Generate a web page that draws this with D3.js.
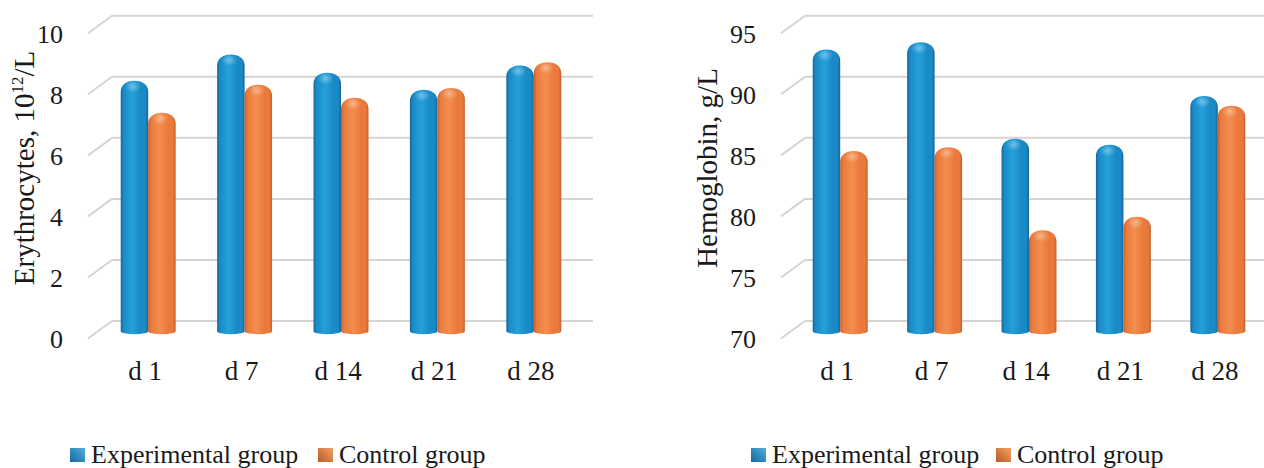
<!DOCTYPE html>
<html>
<head>
<meta charset="utf-8">
<script src="https://cdn.jsdelivr.net/npm/d3@7/dist/d3.min.js"></script>
<style>
  html, body { margin: 0; padding: 0; background: #ffffff; }
  svg { display: block; }
  text { font-family: "Liberation Serif", "Times New Roman", serif; fill: #1a1a1a; }
</style>
</head>
<body>
<svg id="chart" width="1264" height="468"></svg>
<script>
// Blood indices by day of observation
const categories = ["d 1", "d 7", "d 14", "d 21", "d 28"];
const seriesNames = ["Experimental group", "Control group"];

const erythrocytesExperimental = [8.06, 8.92, 8.32, 7.76, 8.56];
const erythrocytesControl      = [7.01, 7.93, 7.50, 7.82, 8.66];
const erythrocyteTicks = [0, 2, 4, 6, 8, 10];

const hemoglobinExperimental = [92.7, 93.3, 85.4, 84.9, 88.9];
const hemoglobinControl      = [84.4, 84.7, 77.9, 79.0, 88.1];
const hemoglobinTicks = [70, 75, 80, 85, 90, 95];

const svg = d3.select("#chart");
const defs = svg.append("defs");

// Cylinder shading: dark rims, bright core
function cylinderGradient(id, dark, mid, light) {
  const g = defs.append("linearGradient").attr("id", id)
    .attr("x1", "0%").attr("x2", "100%").attr("y1", "0%").attr("y2", "0%");
  [[0, dark], [0.1, mid], [0.42, light], [0.72, mid], [0.9, mid], [1, dark]]
    .forEach(([o, c]) => g.append("stop").attr("offset", o).attr("stop-color", c));
}
cylinderGradient("cyl-exp", "#15639a", "#1a8ac6", "#26a0da");
cylinderGradient("cyl-ctl", "#c25f2a", "#ea7a3b", "#f38e50");

// Glint on the rounded caps
const glint = defs.append("radialGradient").attr("id", "cap-glint")
  .attr("cx", "45%").attr("cy", "40%").attr("r", "50%");
glint.append("stop").attr("offset", 0).attr("stop-color", "#ffffff").attr("stop-opacity", 0.35);
glint.append("stop").attr("offset", 1).attr("stop-color", "#ffffff").attr("stop-opacity", 0);

// Legend swatches
function swatchGradient(id, a, b) {
  const g = defs.append("linearGradient").attr("id", id)
    .attr("x1", "100%").attr("y1", "0%").attr("x2", "0%").attr("y2", "100%");
  g.append("stop").attr("offset", 0).attr("stop-color", a);
  g.append("stop").attr("offset", 1).attr("stop-color", b);
}
swatchGradient("sw-exp", "#4fb0e0", "#17689c");
swatchGradient("sw-ctl", "#f3a060", "#b95a26");

const fills = { "Experimental group": "url(#cyl-exp)", "Control group": "url(#cyl-ctl)" };
const swatches = { "Experimental group": "url(#sw-exp)", "Control group": "url(#sw-ctl)" };

const depth = { dx: 24, dy: 17.5 };   // back wall sits up and to the right of the front edge
const gridColor = "#d9d3d3";

function capsulePath(x, w, yTop, yBottom) {
  const ry = 11, r = w / 2;
  return `M${x},${yBottom}` +
    `L${x},${yTop + ry}` +
    `C${x},${yTop + ry * 0.4} ${x + w * 0.2},${yTop} ${x + r},${yTop}` +
    `C${x + w * 0.8},${yTop} ${x + w},${yTop + ry * 0.4} ${x + w},${yTop + ry}` +
    `L${x + w},${yBottom}` +
    `A${r},3 0 0 1 ${x},${yBottom}Z`;
}

function drawPanel(opts) {
  const { backX0, backX1, catRange, padInner, ticks, expVals, ctlVals, title, titleX, legendX } = opts;
  const g = svg.append("g");

  const yBack = d3.scaleLinear().domain([ticks[0], ticks[ticks.length - 1]]).range([321, 15.7]);
  const yFront = d3.scaleLinear().domain(yBack.domain()).range(yBack.range().map(v => v + depth.dy));
  const yMid = d3.scaleLinear().domain(yBack.domain()).range(yBack.range().map(v => v + depth.dy / 2));

  // Back-wall gridlines with their slanted side-wall continuation
  const grid = g.append("g");
  grid.selectAll("line.back").data(ticks).join("line")
    .attr("x1", backX0).attr("x2", backX1)
    .attr("y1", d => yBack(d)).attr("y2", d => yBack(d))
    .attr("stroke", gridColor).attr("stroke-width", 2);
  grid.selectAll("line.side").data(ticks).join("line")
    .attr("x1", backX0 - depth.dx).attr("x2", backX0)
    .attr("y1", d => yFront(d)).attr("y2", d => yBack(d))
    .attr("stroke", gridColor).attr("stroke-width", 2);

  // Value axis labels on the front edge
  const yAxis = d3.axisLeft(yFront).tickValues(ticks).tickSize(0).tickPadding(0).tickFormat(d3.format("d"));
  g.append("g").attr("transform", `translate(${backX0 - depth.dx - 25},1)`).call(yAxis)
    .call(a => a.select(".domain").remove())
    .selectAll("text").attr("font-size", 26).attr("font-family", "Liberation Serif").attr("fill", "#1a1a1a");

  // Bars
  const x0 = d3.scaleBand().domain(categories).range(catRange).paddingInner(padInner).paddingOuter(padInner / 2);
  const x1 = d3.scaleBand().domain(seriesNames).range([0, x0.bandwidth()]);
  const rows = categories.map((c, i) => ({ cat: c, vals: [
    { s: seriesNames[0], v: expVals[i] }, { s: seriesNames[1], v: ctlVals[i] } ] }));
  const yBase = yMid(ticks[0]) + 1.5;

  const groups = g.append("g").selectAll("g").data(rows).join("g")
    .attr("transform", d => `translate(${x0(d.cat)},0)`);
  groups.selectAll("path.bar").data(d => d.vals).join("path").attr("class", "bar")
    .attr("d", d => capsulePath(x1(d.s), x1.bandwidth(), yMid(d.v) - 3, yBase))
    .attr("fill", d => fills[d.s]);
  groups.selectAll("ellipse.glint").data(d => d.vals).join("ellipse").attr("class", "glint")
    .attr("cx", d => x1(d.s) + x1.bandwidth() * 0.47)
    .attr("cy", d => yMid(d.v) + 4)
    .attr("rx", x1.bandwidth() * 0.3).attr("ry", 6)
    .attr("fill", "url(#cap-glint)");

  // Category labels on the front edge
  const xAxis = d3.axisBottom(x0).tickSize(0).tickPadding(0);
  g.append("g").attr("transform", `translate(-3,380)`).call(xAxis)
    .call(a => a.select(".domain").remove())
    .selectAll("text").attr("font-size", 27).attr("font-family", "Liberation Serif").attr("fill", "#1a1a1a")
    .attr("dy", 0);

  // Axis title
  const t = g.append("text")
    .attr("transform", `translate(${titleX},${168}) rotate(-90)`)
    .attr("text-anchor", "middle").attr("dominant-baseline", "central")
    .attr("font-size", 29);
  title(t);

  // Legend
  const lg = g.append("g");
  seriesNames.forEach((s, i) => {
    const x = legendX[i];
    lg.append("rect").attr("x", x).attr("y", 448).attr("width", 15).attr("height", 14)
      .attr("fill", swatches[s]);
    lg.append("text").attr("x", x + 21).attr("y", 463).attr("font-size", 26).text(s);
  });
}

drawPanel({
  backX0: 112, backX1: 593,
  catRange: [100, 582], padInner: 0.43,
  ticks: erythrocyteTicks,
  expVals: erythrocytesExperimental, ctlVals: erythrocytesControl,
  titleX: 24,
  title: t => {
    t.append("tspan").text("Erythrocytes, 10");
    t.append("tspan").attr("font-size", 17).attr("baseline-shift", "40%").text("12");
    t.append("tspan").text("/L");
  },
  legendX: [70, 318]
});

drawPanel({
  backX0: 805, backX1: 1264,
  catRange: [793, 1265], padInner: 0.418,
  ticks: hemoglobinTicks,
  expVals: hemoglobinExperimental, ctlVals: hemoglobinControl,
  titleX: 707,
  title: t => t.text("Hemoglobin, g/L"),
  legendX: [751, 996]
});
</script>
</body>
</html>
